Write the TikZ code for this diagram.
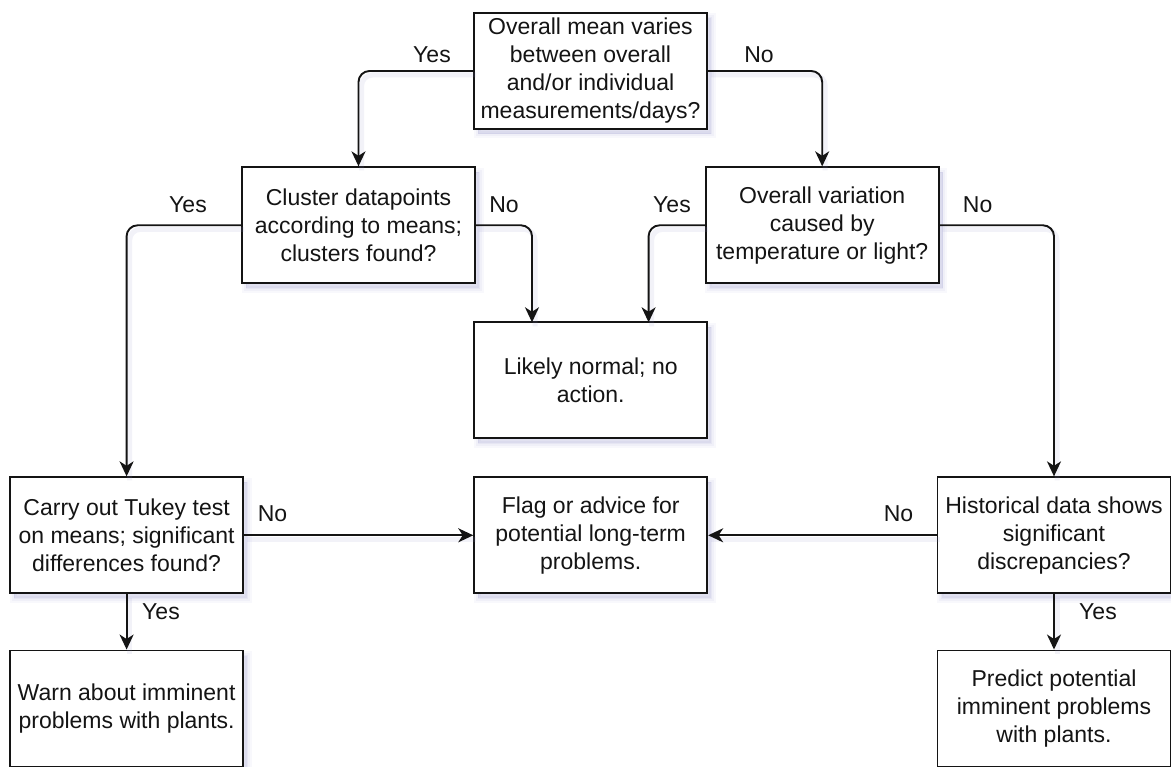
\documentclass[tikz,border=0pt]{standalone}
\usepackage{fontspec}
\setmainfont{Liberation Sans}
\usetikzlibrary{arrows.meta,shadows}
\definecolor{shc}{RGB}{150,150,205}
\definecolor{ink}{RGB}{20,20,20}
\tikzset{
  boxnode/.style={draw=ink, line width=1.9pt, fill=white, align=center,
    minimum width=233pt, minimum height=116pt, inner sep=2pt,
    text=ink, font=\fontsize{23}{28}\selectfont,
    general shadow={draw=shc, line width=9pt, fill=shc, opacity=0.06, shadow xshift=4pt, shadow yshift=-5pt},
    general shadow={draw=shc, line width=5pt, fill=shc, opacity=0.08, shadow xshift=4pt, shadow yshift=-5pt},
    general shadow={draw=shc, line width=1pt, fill=shc, opacity=0.10, shadow xshift=4pt, shadow yshift=-5pt}},
  lbl/.style={text=ink, font=\fontsize{23}{28}\selectfont, inner sep=0pt},
  conn/.style={draw=ink, line width=1.9pt, rounded corners=11pt,
    -{Stealth[length=15pt, width=14pt, inset=4.5pt]},
    preaction={draw=shc, line width=5pt, opacity=0.12, -, transform canvas={shift={(3pt,-4pt)}}}}
}
\begin{document}
\begin{tikzpicture}[x=1pt,y=-1pt]
\useasboundingbox (0,0) rectangle (1171,767);
\fill[white] (0,0) rectangle (1171,767);

\node[boxnode] (top) at (590.5,71) {Overall mean varies\\between overall\\and/or individual\\measurements/days?};
\node[boxnode] (cluster) at (358.5,225.3) {Cluster datapoints\\according to means;\\clusters found?};
\node[boxnode] (variation) at (822.2,225.3) {Overall variation\\caused by\\temperature or light?};
\node[boxnode] (likely) at (590.7,380.3) {Likely normal; no\\action.};
\node[boxnode] (tukey) at (126.6,535.3) {Carry out Tukey test\\on means; significant\\differences found?};
\node[boxnode] (flag) at (590.7,535.3) {Flag or advice for\\potential long-term\\problems.};
\node[boxnode] (hist) at (1054,535.3) {Historical data shows\\significant\\discrepancies?};
\node[boxnode] (warn) at (126.6,708.5) {Warn about imminent\\problems with plants.};
\node[boxnode] (predict) at (1054,708.5) {Predict potential\\imminent problems\\with plants.};

\coordinate (likelyA) at (532,322.3);
\coordinate (likelyB) at (648.6,322.3);

\draw[conn] (top.west) -| (cluster.north);
\draw[conn] (top.east) -| (variation.north);
\draw[conn] (cluster.west) -| (tukey.north);
\draw[conn] (cluster.east) -| (likelyA);
\draw[conn] (variation.west) -| (likelyB);
\draw[conn] (variation.east) -| (hist.north);
\draw[conn] (tukey.east) -- (flag.west);
\draw[conn] (hist.west) -- (flag.east);
\draw[conn] (tukey.south) -- (warn.north);
\draw[conn] (hist.south) -- (predict.north);

\node[lbl] (l1) at (432,55) {Yes};
\node[lbl] (l2) at (759,55) {No};
\node[lbl] (l3) at (188,205) {Yes};
\node[lbl] (l4) at (504,205) {No};
\node[lbl] (l5) at (672,205) {Yes};
\node[lbl] (l6) at (977.6,205) {No};
\node[lbl] (l7) at (272.5,514) {No};
\node[lbl] (l8) at (898.5,514) {No};
\node[lbl] (l9) at (161,611.7) {Yes};
\node[lbl] (l10) at (1098,611.7) {Yes};
\end{tikzpicture}
\end{document}
